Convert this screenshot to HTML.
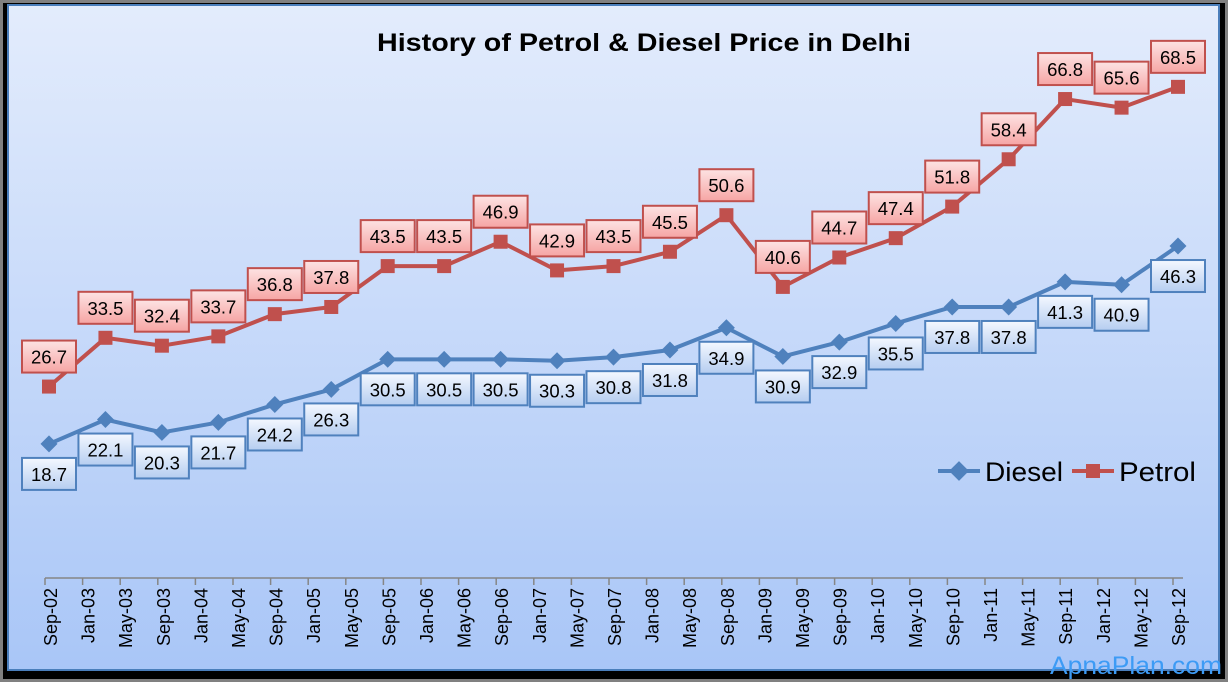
<!DOCTYPE html>
<html><head><meta charset="utf-8"><style>
html,body{margin:0;padding:0;background:#808080;}
svg{display:block;font-family:"Liberation Sans",sans-serif;}
</style></head><body>
<svg id="chart" width="1228" height="682" viewBox="0 0 1228 682">
<defs>
<linearGradient id="bg" x1="0" y1="0" x2="0" y2="1"><stop offset="0" stop-color="#e3ecfc"/><stop offset="1" stop-color="#a9c6f7"/></linearGradient>
<linearGradient id="pk" x1="0" y1="0" x2="0" y2="1"><stop offset="0" stop-color="#fde3e3"/><stop offset="1" stop-color="#f6a5a4"/></linearGradient>
<linearGradient id="bl" x1="0" y1="0" x2="0" y2="1"><stop offset="0" stop-color="#f4f8ff"/><stop offset="1" stop-color="#b5cdf0"/></linearGradient>
</defs>
<rect x="3" y="3" width="1222" height="676" fill="#000"/>
<rect x="8" y="5" width="1211" height="665" fill="url(#bg)" stroke="#4a7ebb" stroke-width="2"/>
<text x="644" y="51" text-anchor="middle" font-size="25" font-weight="bold" fill="#000" textLength="534" lengthAdjust="spacingAndGlyphs">History of Petrol &amp; Diesel Price in Delhi</text>
<g id="axis"></g>
<g id="series"></g>
<g id="legend">
<line x1="938" y1="471" x2="980" y2="471" stroke="#4f81bd" stroke-width="4"/>
<rect x="952" y="464" width="14" height="14" fill="#4f81bd" transform="rotate(45 959 471)"/>
<text x="985" y="481" font-size="27" textLength="78" lengthAdjust="spacingAndGlyphs">Diesel</text>
<line x1="1072" y1="471" x2="1114" y2="471" stroke="#c0504d" stroke-width="4"/>
<rect x="1086" y="464" width="14" height="14" fill="#c0504d"/>
<text x="1119" y="481" font-size="27" textLength="77" lengthAdjust="spacingAndGlyphs">Petrol</text>
</g>
<text x="1222" y="674" text-anchor="end" font-size="25" fill="#3d9bf5" textLength="172" lengthAdjust="spacingAndGlyphs">ApnaPlan.com</text>
</svg>
<script>
const tickLabels=["Sep-02","Jan-03","May-03","Sep-03","Jan-04","May-04","Sep-04","Jan-05","May-05","Sep-05","Jan-06","May-06","Sep-06","Jan-07","May-07","Sep-07","Jan-08","May-08","Sep-08","Jan-09","May-09","Sep-09","Jan-10","May-10","Sep-10","Jan-11","May-11","Sep-11","Jan-12","May-12","Sep-12"];
const diesel=[18.7,22.1,20.3,21.7,24.2,26.3,30.5,30.5,30.5,30.3,30.8,31.8,34.9,30.9,32.9,35.5,37.8,37.8,41.3,40.9,46.3];
const petrol=[26.7,33.5,32.4,33.7,36.8,37.8,43.5,43.5,46.9,42.9,43.5,45.5,50.6,40.6,44.7,47.4,51.8,58.4,66.8,65.6,68.5];
const NS="http://www.w3.org/2000/svg";
function mk(tag,attrs,parent){const e=document.createElementNS(NS,tag);for(const k in attrs)e.setAttribute(k,attrs[k]);parent.appendChild(e);return e;}
const y0=578, ppu=7.17;
function yS(v){return y0-v*ppu;}
function xP(i,n){return 49+i*(1178-49)/(n-1);}
function xT(i){return 45+i*(1173-45)/(tickLabels.length-1);}
const ax=document.getElementById('axis');
const al=mk('line',{x1:45,y1:y0,x2:1183,y2:y0,stroke:'#868686','stroke-width':1.5},ax);


tickLabels.forEach((t,i)=>{
  const x=xT(i);
  const tk=mk('line',{x1:x,y1:y0,x2:x,y2:y0+7,stroke:'#868686','stroke-width':1.5},ax);
  
  
  const tx=mk('text',{x:0,y:0,'font-size':18,'text-anchor':'end',transform:`translate(${x+12},588) rotate(-90)`,fill:'#000'},ax);
  tx.textContent=t;
  
  
});
const sg=document.getElementById('series');
function drawSeries(vals,color,fill,name,above){
  const n=vals.length;
  const pts=vals.map((v,i)=>xP(i,n)+','+yS(v)).join(' ');
  const pl=mk('polyline',{points:pts,fill:'none',stroke:color,'stroke-width':4,'stroke-linejoin':'round'},sg);
  
  
  vals.forEach((v,i)=>{
    const x=xP(i,n),y=yS(v);
    let m;
    if(above){m=mk('rect',{x:x-7,y:y-7,width:14,height:14,fill:color},sg);}
    else{m=mk('rect',{x:x-6,y:y-6,width:12,height:12,fill:color,transform:`rotate(45 ${x} ${y})`},sg);}
    
    
  });
  vals.forEach((v,i)=>{
    const x=xP(i,n),y=yS(v);
    const cy=above?y-30:y+30;
    const b=mk('rect',{x:x-27,y:cy-16,width:54,height:32,fill:fill,stroke:color,'stroke-width':2},sg);
    
    
    const t=mk('text',{x:x,y:cy+7,'text-anchor':'middle','font-size':18.5,fill:'#000'},sg);
    t.textContent=v.toFixed(1);
    
    
  });
}
drawSeries(diesel,'#4f81bd','url(#bl)','diesel',false);
drawSeries(petrol,'#c0504d','url(#pk)','petrol',true);
</script>
</body></html>
